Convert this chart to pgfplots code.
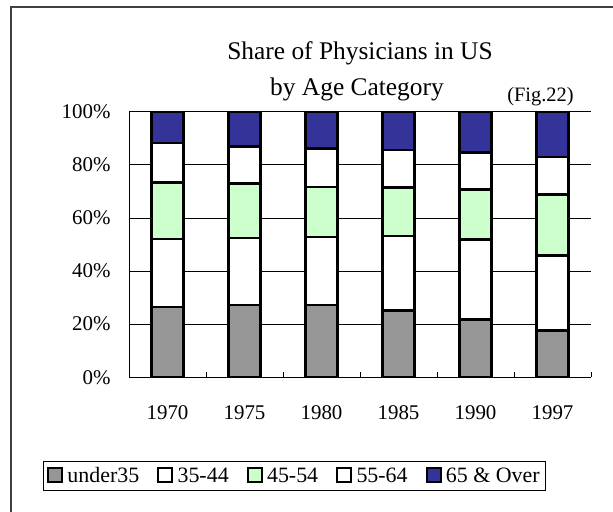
\documentclass[border=0pt]{standalone}
\usepackage{pgfplots}
\pgfplotsset{compat=1.18}
\usepackage{fontspec}
\setmainfont{Liberation Serif}
\definecolor{cgray}{HTML}{969696}
\definecolor{cgreen}{HTML}{CCFFCC}
\definecolor{cblue}{HTML}{333399}
\definecolor{cframe}{HTML}{404040}
\begin{document}
\begin{tikzpicture}[x=1bp,y=1bp]
\draw[line width=2bp, color=cframe] (11,0) -- (11,505) -- (613,505);
\begin{axis}[
  at={(129bp,134.7bp)}, anchor=south west,
  scale only axis, width=462bp, height=265.6bp,
  ybar stacked, bar width=32bp,
  xmin=-0.5, xmax=5.5, ymin=0, ymax=100,
  axis x line*=bottom, axis y line*=left,
  axis line style={-, black, line width=0.8bp},
  xtick={0,1,2,3,4,5},
  xticklabels={1970,1975,1980,1985,1990,1997},
  minor xtick={0.5,1.5,2.5,3.5,4.5,5.5},
  major x tick style={draw=none},
  minor x tick style={black, line width=0.8bp},
  minor tick length=5bp,
  tick align=inside,
  ytick={0,20,40,60,80,100},
  yticklabels={0\%,20\%,40\%,60\%,80\%,100\%},
  major y tick style={draw=none},
  ymajorgrids, grid style={black, line width=0.8bp},
  tick label style={font=\fontsize{21}{24}\selectfont},
  yticklabel style={xshift=-15bp},
  xticklabel style={yshift=-25bp},
  legend columns=5,
  legend style={at={(0.358,-0.372)}, anchor=center, draw=black, line width=0.8bp,
    font=\fontsize{22}{26}\selectfont,
    /tikz/every even column/.append style={column sep=16bp},
    inner sep=4bp},
  legend image code/.code={\draw[#1, draw=black, line width=2.2bp] (0bp,-6bp) rectangle (14bp,8bp); \path (16bp,0bp);},
]
\addplot[fill=cgray, draw=black, line width=2.5bp] coordinates {(0,26.4) (1,27.3) (2,27.3) (3,25.2) (4,21.7) (5,17.6)};
\addplot[fill=white, draw=black, line width=2.5bp] coordinates {(0,25.6) (1,25.2) (2,25.5) (3,28.0) (4,30.1) (5,28.3)};
\addplot[fill=cgreen, draw=black, line width=2.5bp] coordinates {(0,21.4) (1,20.5) (2,18.9) (3,18.3) (4,18.9) (5,22.9)};
\addplot[fill=white, draw=black, line width=2.5bp] coordinates {(0,14.9) (1,13.8) (2,14.5) (3,14.0) (4,14.0) (5,14.2)};
\addplot[fill=cblue, draw=black, line width=2.5bp] coordinates {(0,11.7) (1,13.2) (2,13.8) (3,14.5) (4,15.3) (5,17.0)};
\legend{under35,35-44,45-54,55-64,65 \& Over}
\end{axis}
\node[font=\fontsize{25.5}{30}\selectfont, inner sep=0pt] at (360,458.7) {Share of Physicians in US};
\node[font=\fontsize{25.5}{30}\selectfont, inner sep=0pt] at (357,423) {by Age Category};
\node[font=\fontsize{20.5}{24}\selectfont, inner sep=0pt] at (540.5,415.5) {(Fig.22)};
\pgfresetboundingbox
\path (0,0) rectangle (613,512);
\end{tikzpicture}
\end{document}
